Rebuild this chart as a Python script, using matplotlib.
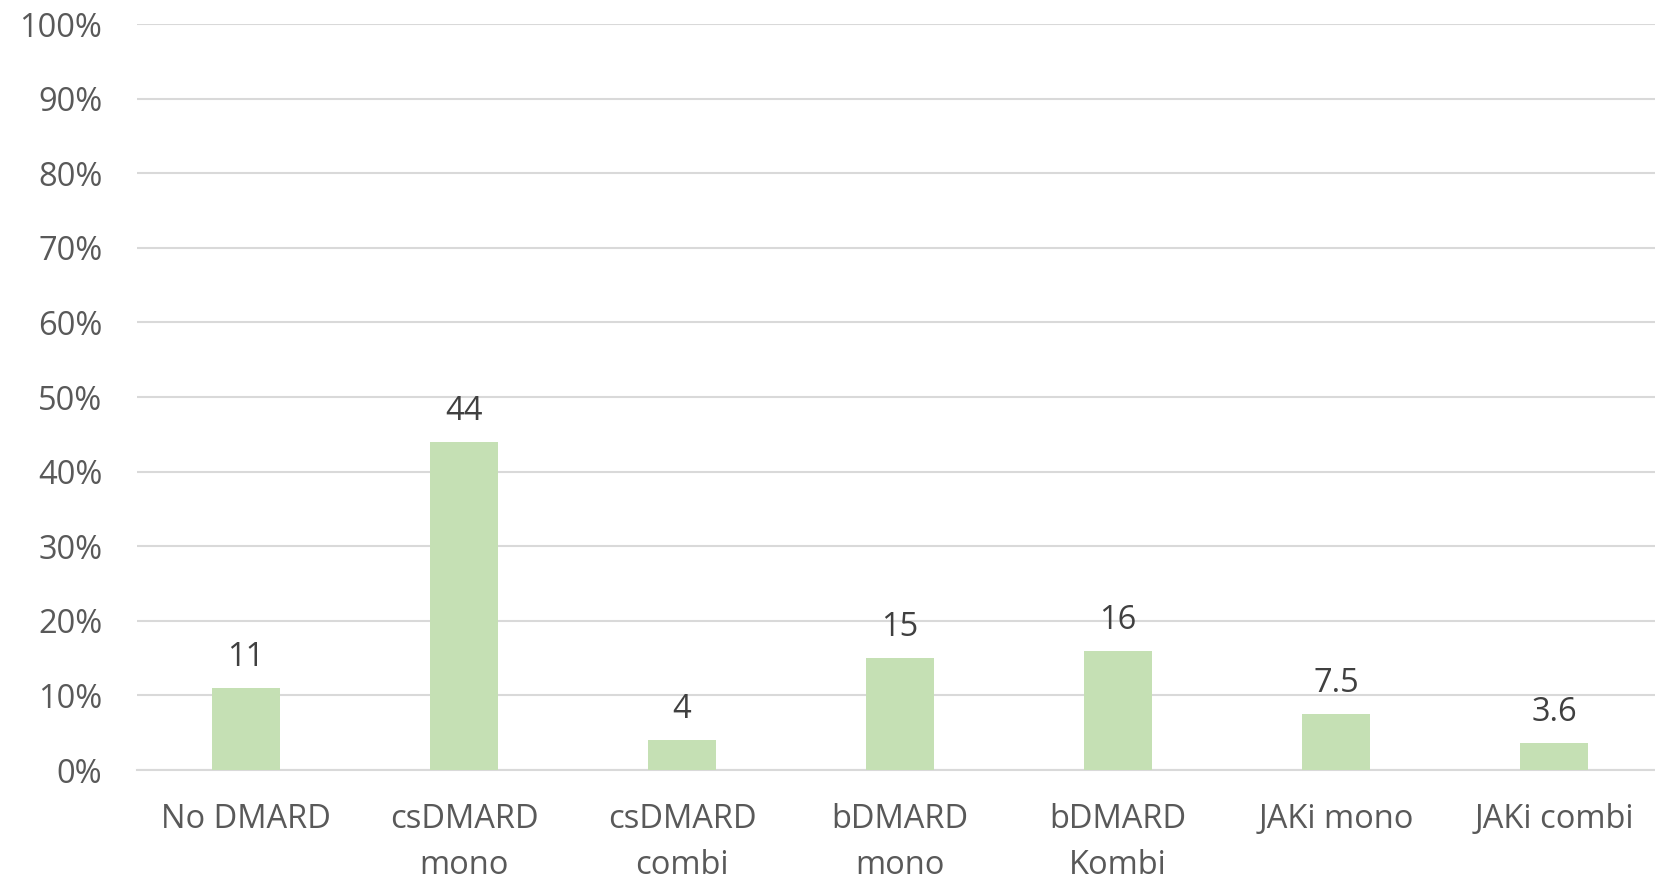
import matplotlib.pyplot as plt
from matplotlib.ticker import FuncFormatter

categories = ["No DMARD", "csDMARD\nmono", "csDMARD\ncombi", "bDMARD\nmono",
              "bDMARD\nKombi", "JAKi mono", "JAKi combi"]
values = [11, 44, 4, 15, 16, 7.5, 3.6]
labels = ["11", "44", "4", "15", "16", "7.5", "3.6"]

plt.rcParams['font.family'] = ['Open Sans', 'DejaVu Sans']

fig = plt.figure(figsize=(16.55, 8.8), dpi=100)
ax = fig.add_axes([0.0828, 0.125, 0.922, 0.8477])

x = range(len(categories))
bars = ax.bar(x, values, width=0.31, color='#C5E0B4', zorder=3)

for b, lab in zip(bars, labels):
    ax.annotate(lab, (b.get_x() + b.get_width() / 2, b.get_height()),
                xytext=(0, 22), textcoords='offset points', ha='center', va='center',
                fontsize=23.5, color='#404040')

ax.set_xlim(-0.5, len(categories) - 0.5)
ax.set_ylim(0, 100)
ax.set_yticks(range(0, 101, 10))
ax.yaxis.set_major_formatter(FuncFormatter(lambda v, p: f"{v:.0f}%"))
ax.set_xticks(list(x))
ax.set_xticklabels(categories, linespacing=1.5)

ax.grid(axis='y', color='#D9D9D9', linewidth=1.5, zorder=0)
for s in ['top', 'right', 'left']:
    ax.spines[s].set_visible(False)
ax.spines['bottom'].set_color('#D9D9D9')
ax.spines['bottom'].set_linewidth(1.5)
ax.tick_params(axis='both', length=0, labelsize=23.5, colors='#595959')
ax.tick_params(axis='y', pad=25)
ax.tick_params(axis='x', pad=24)

fig.savefig('out.png', dpi=100)
